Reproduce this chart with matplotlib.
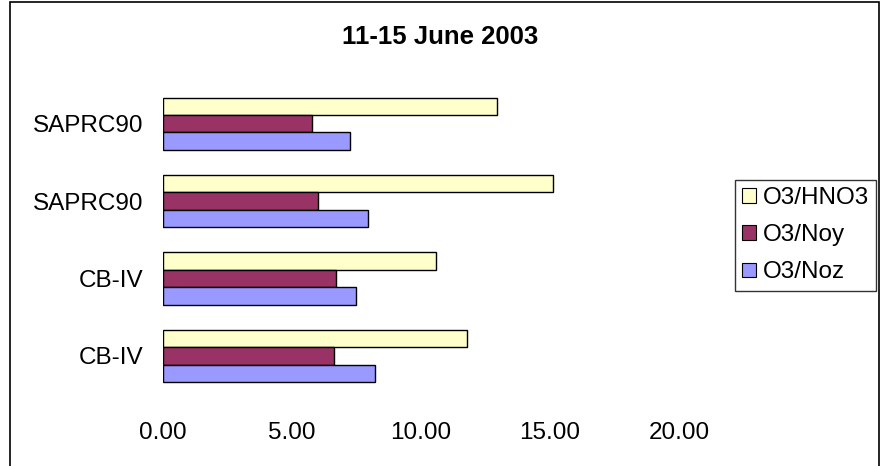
import matplotlib.pyplot as plt
import numpy as np
from matplotlib.patches import Patch, Rectangle

# data (top row first, as drawn)
categories = ["SAPRC90", "SAPRC90", "CB-IV", "CB-IV"]
o3_hno3 = [12.95, 15.13, 10.59, 11.79]
o3_noy = [5.79, 6.01, 6.70, 6.62]
o3_noz = [7.25, 7.96, 7.47, 8.23]
series_names = ["O3/HNO3", "O3/Noy", "O3/Noz"]
colors = ["#FFFFCC", "#993366", "#9999FF"]
xticks = [0, 5, 10, 15, 20]

plt.rcParams['font.family'] = ['Liberation Sans', 'DejaVu Sans']

W, H = 881, 466
fig = plt.figure(figsize=(W / 100, H / 100), dpi=100)

# outer chart frame (bottom edge is cut off in the original)
fig.patches.append(Rectangle((10 / W, -0.05), 869.5 / W, 1.05 - 2 / H,
                             transform=fig.transFigure, fill=False,
                             edgecolor='black', linewidth=1.2))

ax = fig.add_axes([163 / W, 1 - 394.5 / H, (679 - 163) / W, (394.5 - 85) / H])

y = np.arange(len(categories))
h = 0.225
for vals, off, col in zip([o3_hno3, o3_noy, o3_noz], [-h, 0, h], colors):
    ax.barh(y + off, vals, height=h, color=col, edgecolor='black', linewidth=1)

ax.set_ylim(len(categories) - 0.5, -0.5)
ax.set_xlim(0, 20)
ax.set_yticks(y)
ax.set_yticklabels(categories, fontsize=17.5)
ax.set_xticks(xticks)
ax.set_xticklabels([f"{v:.2f}" for v in xticks], fontsize=17.5)
ax.tick_params(axis='y', length=0, pad=14)
ax.tick_params(axis='x', length=0, pad=20)
for s in ax.spines.values():
    s.set_visible(False)

fig.text(0.5, 1 - 36.5 / H, "11-15 June 2003", ha='center', va='center',
         fontsize=18.5, fontweight='bold')

handles = [Patch(facecolor=c, edgecolor='black', linewidth=0.8) for c in colors]
leg = fig.legend(handles, series_names, loc='upper left',
                 bbox_to_anchor=(735 / W, 1 - 180 / H), fontsize=17.5,
                 handlelength=0.55, handleheight=0.55, handletextpad=0.3,
                 labelspacing=0.62, borderpad=0.3, borderaxespad=0,
                 frameon=True, fancybox=False)
leg.get_frame().set_edgecolor('black')
leg.get_frame().set_linewidth(1)

fig.savefig("out.png", dpi=100)
